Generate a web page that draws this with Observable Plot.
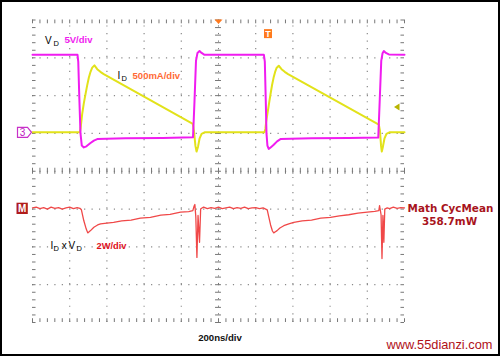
<!DOCTYPE html>
<html><head><meta charset="utf-8">
<script src="https://cdn.jsdelivr.net/npm/d3@7"></script>
<script src="https://cdn.jsdelivr.net/npm/@observablehq/plot@0.6"></script>
<style>
body{margin:0;background:#fff}
#wrap{position:relative;width:500px;height:356px;overflow:hidden}
#wrap::after{content:"";position:absolute;left:0;top:0;right:0;bottom:0;border:2px solid #000;pointer-events:none}
svg{display:block}
</style></head><body><div id="wrap"></div>
<script>
// time in ns (200 ns/div), level in screen divisions
const vdTrace = [[-1000,3.08],[-758,3.08],[-754,2.9],[-748,1.9],[-742,1.0],[-735,0.68],[-724,0.63],[-710,0.66],[-690,0.74],[-670,0.81],[-652,0.85],[-500,0.87],[-300,0.88],[-137,0.90],[-129,1.86],[-121,2.92],[-113,3.13],[-102,3.18],[-91,3.13],[-75,3.08],
  [244,3.08],[249,2.9],[254,1.9],[258,1.0],[263,0.68],[270,0.59],[285,0.65],[297,0.70],[315,0.79],[333,0.85],[500,0.87],[700,0.88],[859,0.89],[867,1.9],[875,2.92],[882,3.12],[889,3.18],[900,3.13],[916,3.09],[1000,3.08]];
const idTrace = [[-1000,1.03],[-745,1.03],[-741,1.15],[-733,1.51],[-724,1.80],[-715,2.04],[-706,2.27],[-697,2.48],[-688,2.63],[-679,2.74],[-667,2.80],[-652,2.70],[-635,2.63],[-617,2.57],[-138,1.25],[-132,1.07],[-124,0.67],[-118,0.52],[-110,0.65],[-102,0.86],[-91,0.99],[-75,1.03],
  [247,1.03],[252,1.12],[256,1.30],[263,1.52],[272,1.80],[280,2.05],[288,2.28],[296,2.47],[304,2.62],[312,2.73],[324,2.79],[339,2.70],[356,2.63],[374,2.57],[862,1.23],[868,1.07],[874,0.67],[878,0.52],[884,0.65],[892,0.86],[903,0.99],[919,1.03],[1000,1.03]];
const powerTrace = [[-1000,-0.97],[-980,-0.95],[-960,-0.99],[-940,-0.96],[-920,-1.00],[-900,-0.95],[-880,-0.98],[-860,-0.96],[-840,-1.00],[-820,-0.97],[-800,-0.95],[-780,-0.99],[-760,-0.96],[-745,-0.98],
  [-737,-1.02],[-724,-1.31],[-711,-1.53],[-703,-1.63],[-688,-1.57],[-670,-1.48],[-650,-1.42],[-634,-1.39],[-600,-1.37],[-564,-1.35],[-520,-1.31],[-470,-1.29],[-420,-1.24],[-366,-1.22],[-310,-1.16],[-260,-1.14],[-204,-1.08],[-160,-1.07],[-138,-1.04],
  [-131,-0.92],[-127,-0.88],[-122,-1.20],[-116,-2.28],[-110,-1.17],[-102,-1.88],[-96,-1.00],[-91,-0.98],
  [-80,-0.95],[-60,-0.99],[-40,-0.96],[-20,-0.98],[0,-0.95],[20,-0.99],[40,-0.97],[60,-0.95],[80,-0.99],[100,-0.96],[120,-0.98],[140,-0.95],[160,-0.99],[180,-0.97],[200,-0.96],[220,-0.99],[240,-0.97],
  [262,-1.02],[270,-1.20],[280,-1.42],[290,-1.58],[297,-1.63],[306,-1.60],[315,-1.57],[330,-1.50],[351,-1.44],[378,-1.39],[405,-1.35],[450,-1.31],[500,-1.29],[550,-1.24],[602,-1.22],[650,-1.18],[700,-1.15],[750,-1.11],[800,-1.08],[840,-1.06],[862,-1.04],
  [866,-0.91],[874,-1.15],[879,-2.31],[884,-1.17],[889,-1.88],[894,-1.00],[907,-0.97],[920,-0.99],[940,-0.95],[960,-0.98],[980,-0.96],[1000,-0.97]];

const majorX = [-800,-600,-400,-200,200,400,600,800];
const majorY = [-3,-2,-1,1,2,3];
const minorX = d3.range(-1000, 1000.1, 40);
const minorY = d3.range(-4, 4.01, 0.2);

const FONT = "Liberation Sans, Arial, sans-serif";
const gray = "#777";

const box3 = {draw(c){c.moveTo(-15,-5);c.lineTo(-5,-5);c.lineTo(-1,0);c.lineTo(-5,5);c.lineTo(-15,5);c.closePath();}};
const boxM = {draw(c){c.moveTo(-16,-5.6);c.lineTo(-4.7,-5.6);c.lineTo(-4.7,5.7);c.lineTo(-16,5.7);c.closePath();}};
const trigDown = {draw(c){c.moveTo(-4,-0.5);c.lineTo(4,-0.5);c.lineTo(0,4);c.closePath();}};
const boxT = {draw(c){c.moveTo(-4,-4.5);c.lineTo(4,-4.5);c.lineTo(4,4.5);c.lineTo(-4,4.5);c.closePath();}};
const arrowL = {draw(c){c.moveTo(-2.5,0);c.lineTo(3,-3.5);c.lineTo(3,3.5);c.closePath();}};

const one = [0];
const txt = (s, x, y, o) => Plot.text(one, {x, y, text: () => s, fontFamily: FONT, lineAnchor: "bottom", textAnchor: "start", fontSize: 10, ...o});

const chart = Plot.plot({
  width: 500, height: 356,
  marginLeft: 0, marginRight: 0, marginTop: 0, marginBottom: 0,
  style: {background: "#fff", overflow: "visible"},
  x: {type: "linear", domain: [-1000, 1000], range: [32, 404], axis: null},
  y: {type: "linear", domain: [-4, 4], range: [322, 19.5], axis: null},
  marks: [
    // dotted graticule
    Plot.ruleX(majorX, {y1: -4, y2: 4, stroke: "#8a8a8a", strokeWidth: 1.2, strokeDasharray: "1.2 6.375"}),
    Plot.ruleY(majorY, {x1: -1000, x2: 1000, stroke: "#8a8a8a", strokeWidth: 1.2, strokeDasharray: "1.2 6.24"}),
    // centre lines with minor ticks
    Plot.ruleX([0], {y1: -4, y2: 4, stroke: gray, strokeWidth: 1, strokeDasharray: "1.2 6.375"}),
    Plot.ruleY([0], {x1: -1000, x2: 1000, stroke: gray, strokeWidth: 1, strokeDasharray: "1.2 6.24"}),
    Plot.ruleY(minorY, {x1: -16, x2: 16, stroke: gray, strokeWidth: 1}),
    Plot.ruleX(minorX, {y1: -0.08, y2: 0.08, stroke: gray, strokeWidth: 1}),
    // border ticks
    Plot.ruleX(minorX, {y1: 4, y2: 3.9, stroke: gray, strokeWidth: 1}),
    Plot.ruleX(minorX, {y1: -4, y2: -3.9, stroke: gray, strokeWidth: 1}),
    Plot.ruleY(minorY, {x1: -1000, x2: -981, stroke: gray, strokeWidth: 1}),
    Plot.ruleY(minorY, {x1: 1000, x2: 981, stroke: gray, strokeWidth: 1}),
    Plot.frame({stroke: "#555", strokeWidth: 1.5}),
    // traces
    Plot.line(powerTrace, {x: d => d[0], y: d => d[1], stroke: "#f04848", strokeWidth: 1.3}),
    Plot.line(idTrace, {x: d => d[0], y: d => d[1], stroke: "#e2e21a", strokeWidth: 2}),
    Plot.line(vdTrace, {x: d => d[0], y: d => d[1], stroke: "#f01cf0", strokeWidth: 2}),
    // channel markers
    Plot.dot(one, {x: -1000, y: 1.03, symbol: box3, fill: "#fff", stroke: "#c830c8", strokeWidth: 1.2, r: 5}),
    Plot.text(one, {x: -1000, y: 1.03, dx: -10, text: () => "3", fill: "#c020c0", fontFamily: FONT, fontSize: 10}),
    Plot.dot(one, {x: -1000, y: -0.98, symbol: boxM, fill: "#b01c1c", stroke: "none", r: 5}),
    Plot.text(one, {x: -1000, y: -0.98, dx: -10.3, text: () => "M", fill: "#fff", fontFamily: FONT, fontSize: 10, fontWeight: "bold"}),
    Plot.dot(one, {x: 0, y: 4, symbol: trigDown, fill: "#ff7a1e", stroke: "none", r: 4}),
    Plot.dot(one, {x: 266, y: 3.64, symbol: boxT, fill: "#ff7a1e", stroke: "none", r: 4}),
    Plot.text(one, {x: 266, y: 3.64, text: () => "T", fill: "#fff", fontFamily: FONT, fontSize: 9, fontWeight: "bold"}),
    Plot.dot(one, {x: 957, y: 1.70, symbol: arrowL, fill: "#b8b400", stroke: "none", r: 4}),
    // labels
    txt("V", -933, 3.37, {fill: "#000"}),
    txt("D", -887, 3.32, {fill: "#000", fontSize: 7.5}),
    txt("5V/div", -828, 3.38, {fill: "#f01cf0", fontWeight: "bold", fontSize: 9.5}),
    txt("I", -543, 2.44, {fill: "#000"}),
    txt("D", -521, 2.39, {fill: "#000", fontSize: 7.5}),
    txt("500mA/div", -462, 2.43, {fill: "#ff6a35", fontWeight: "bold", fontSize: 9.5}),
    txt("I", -903, -2.05, {fill: "#000"}),
    txt("D", -887, -2.10, {fill: "#000", fontSize: 7.5}),
    txt("x", -843, -2.05, {fill: "#000"}),
    txt("V", -806, -2.05, {fill: "#000"}),
    txt("D", -763, -2.10, {fill: "#000", fontSize: 7.5}),
    txt("2W/div", -656, -2.05, {fill: "#e0101c", fontWeight: "bold", fontSize: 9.3}),
    txt("200ns/div", 8, -4.50, {fill: "#111", fontWeight: "bold", fontSize: 9.6, textAnchor: "middle"}),
    txt("Math CycMean", 1247, -1.07, {fill: "#a8141c", fontSize: 10.4, fontWeight: "bold", textAnchor: "middle", fontFamily: "DejaVu Sans, sans-serif"}),
    txt("358.7mW", 1242, -1.43, {fill: "#a8141c", fontSize: 10.4, fontWeight: "bold", textAnchor: "middle", fontFamily: "DejaVu Sans, sans-serif"}),
    txt("www.55dianzi.com", 903, -4.69, {fill: "#b01018", fontSize: 12.8})
  ]
});
document.getElementById("wrap").appendChild(chart);
</script></body></html>
